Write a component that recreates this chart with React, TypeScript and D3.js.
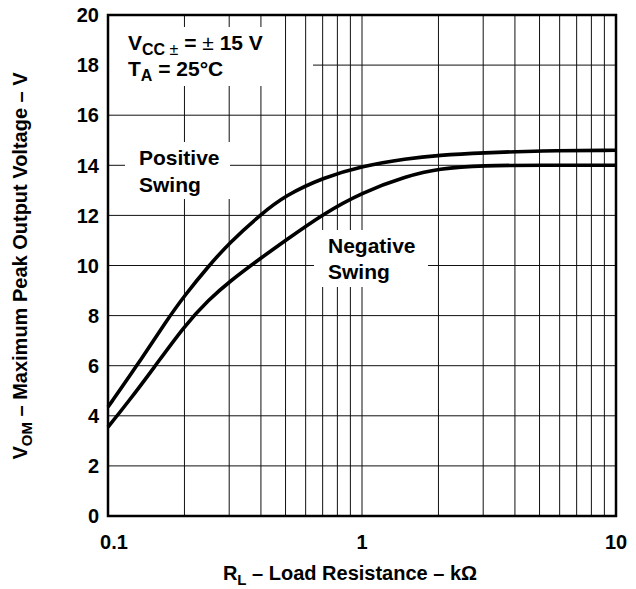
import React from "react";
import * as d3 from "d3";

const resistanceK = [0.1, 0.13, 0.17, 0.2, 0.25, 0.3, 0.4, 0.5, 0.7, 1, 1.5, 2, 3, 5, 10];
const positiveSwing = [4.35, 6.0, 7.8, 8.8, 10.0, 10.9, 12.05, 12.8, 13.5, 13.97, 14.27, 14.4, 14.5, 14.58, 14.6];
const resistanceNegK = [0.1, 0.12, 0.15, 0.2, 0.25, 0.3, 0.4, 0.5, 0.7, 1, 1.5, 2, 3, 5, 10];
const negativeSwing = [3.55, 4.55, 5.85, 7.6, 8.65, 9.35, 10.3, 11.0, 12.05, 12.92, 13.57, 13.87, 14.0, 14.0, 14.0];
const yTicks = [0, 2, 4, 6, 8, 10, 12, 14, 16, 18, 20];
const xTickLabels = [0.1, 1, 10];
const xGrid = [0.2, 0.3, 0.4, 0.5, 0.6, 0.7, 0.8, 0.9, 1, 2, 3, 4, 5, 6, 7, 8, 9];

const W = 636, H = 589;
const L = 108, R = 616, T = 15, B = 516;
const FONT = "'Liberation Sans', Arial, Helvetica, sans-serif";

export default function App() {
  const x = d3.scaleLog().domain([0.1, 10]).range([L, R]);
  const y = d3.scaleLinear().domain([0, 20]).range([B, T]);
  const line = d3.line<[number, number]>()
    .x(d => x(d[0]))
    .y(d => y(d[1]))
    .curve(d3.curveBasis);
  const pos = line(resistanceK.map((r, i) => [r, positiveSwing[i]]));
  const neg = line(resistanceNegK.map((r, i) => [r, negativeSwing[i]]));

  const hGaps = [
    { x1: L, x2: 313, y1: 27, y2: 86 },
    { x1: 125, x2: 230, y1: 142, y2: 199 },
    { x1: 314, x2: 428, y1: 230, y2: 287 },
  ];
  const vGaps = [
    { x1: L, x2: 275, y1: 27, y2: 86 },
    { x1: 125, x2: 230, y1: 142, y2: 199 },
    { x1: 314, x2: 428, y1: 230, y2: 287 },
  ];

  return (
    <svg width={W} height={H} style={{ position: "absolute", left: 0, top: 0, background: "#fff" }} fontFamily={FONT}>
      <rect x={0} y={0} width={W} height={H} fill="#fff" />
      {yTicks.map(v => (
        <line key={"h" + v} x1={L} x2={R} y1={y(v)} y2={y(v)} stroke="#111" strokeWidth={1} />
      ))}
      {hGaps.map((g, i) => (
        <rect key={"hg" + i} x={g.x1} y={g.y1} width={g.x2 - g.x1} height={g.y2 - g.y1} fill="#fff" />
      ))}
      {xGrid.map(v => (
        <line key={"v" + v} x1={x(v)} x2={x(v)} y1={T} y2={B} stroke="#111" strokeWidth={1} />
      ))}
      {vGaps.map((g, i) => (
        <rect key={"vg" + i} x={g.x1} y={g.y1} width={g.x2 - g.x1} height={g.y2 - g.y1} fill="#fff" />
      ))}
      <path d={pos || ""} fill="none" stroke="#000" strokeWidth={3.6} strokeLinejoin="round" />
      <path d={neg || ""} fill="none" stroke="#000" strokeWidth={3.6} strokeLinejoin="round" />
      <rect x={L} y={T} width={R - L} height={B - T} fill="none" stroke="#000" strokeWidth={2.5} />

      {yTicks.map(v => (
        <text key={"yl" + v} x={99} y={y(v)} dy="0.36em" textAnchor="end" fontSize={20} fontWeight="bold">{v}</text>
      ))}
      {xTickLabels.map((v, i) => (
        <text key={"xl" + v} x={x(v) + (i === 0 ? 6 : 0)} y={549} textAnchor="middle" fontSize={20} fontWeight="bold">{v}</text>
      ))}

      <text x={350} y={580} textAnchor="middle" fontSize={20} fontWeight="bold">
        R<tspan fontSize={15} dy={5}>L</tspan><tspan dy={-5}> – Load Resistance – kΩ</tspan>
      </text>
      <text transform="translate(27,266) rotate(-90)" textAnchor="middle" fontSize={20} fontWeight="bold">
        V<tspan fontSize={15} dy={5}>OM</tspan><tspan dy={-5}> – Maximum Peak Output Voltage – V</tspan>
      </text>

      <text x={128} y={50} fontSize={21} fontWeight="bold">
        V<tspan fontSize={16} dy={5}>CC</tspan><tspan fontSize={16} fontWeight="normal"> ±</tspan><tspan dy={-5}> = </tspan><tspan fontWeight="normal">±</tspan><tspan> 15 V</tspan>
      </text>
      <text x={128} y={76} fontSize={21} fontWeight="bold">
        T<tspan fontSize={16} dy={5}>A</tspan><tspan dy={-5}> = 25°C</tspan>
      </text>

      <text x={139} y={165} fontSize={21} fontWeight="bold">Positive</text>
      <text x={139} y={192} fontSize={21} fontWeight="bold">Swing</text>
      <text x={328} y={253} fontSize={21} fontWeight="bold">Negative</text>
      <text x={328} y={279} fontSize={21} fontWeight="bold">Swing</text>
    </svg>
  );
}
